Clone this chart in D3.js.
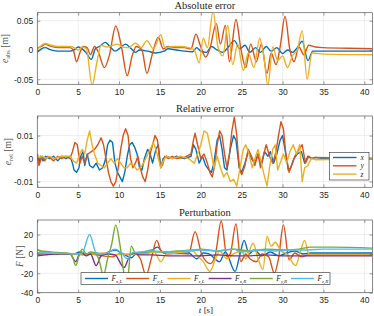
<!DOCTYPE html>
<html><head><meta charset="utf-8">
<script src="https://cdn.jsdelivr.net/npm/d3@7"></script>
<style>body{margin:0;background:#fff}svg{display:block}</style>
</head><body><svg id="c" width="374" height="316"></svg>
<script>
const colors = ["#0072BD","#D95319","#EDB120","#7E2F8E","#77AC30","#4DBEEE"];
const xTicks = [0,5,10,15,20,25,30,35,40];

// Absolute error [m]
const absX = [[0,-0.004],[0.5,0.002],[1,0.004],[1.5,0.001],[2,-0.001],[3,-0.002],[4,-0.002],[4.5,0],[5,0.005],[5.5,0.002],[6,-0.005],[6.6,-0.016],[7.1,0.002],[7.6,0.006],[8.3,0.013],[9,0.004],[9.5,-0.002],[10,0.002],[10.8,0.01],[11.5,0.002],[12,-0.004],[12.5,0],[13.5,-0.002],[14.5,-0.005],[15.5,-0.002],[16,0.002],[17,0],[18,-0.002],[19,-0.003],[19.5,0.004],[20,-0.002],[20.7,-0.004],[21.3,0.006],[22,0],[22.7,-0.004],[23.3,0.004],[24.1,0.016],[24.8,0.002],[25.4,0.008],[26,-0.004],[26.7,0.004],[27.3,-0.004],[28,0.006],[28.6,-0.002],[29.3,0.004],[30,-0.006],[30.6,0],[31.2,-0.004],[31.8,0.004],[32.4,0.015],[33.1,-0.018],[33.7,-0.002],[34.5,-0.002],[37,-0.002],[41,-0.002]];
const absY = [[0,0.003],[0.5,0.006],[1,0.01],[1.5,0.007],[2.5,0.004],[4,0.004],[4.4,0],[4.8,-0.02],[5.2,-0.005],[5.6,0.006],[6.1,0.004],[6.5,-0.008],[7,0.006],[7.5,-0.005],[8.2,-0.03],[8.8,-0.01],[9.6,0.041],[10.3,0.005],[11,-0.044],[11.6,-0.01],[12.1,0.006],[12.8,0],[13.4,-0.04],[14.1,-0.005],[14.8,0.022],[15.4,0.002],[16,0.006],[17,0.004],[18,0.004],[18.8,0.002],[19.4,0.027],[20,0.005],[20.6,-0.012],[21.1,0.002],[21.9,0.045],[22.4,0.01],[23,0.042],[23.5,-0.02],[24.3,0.052],[24.9,0.002],[25.5,-0.03],[26.1,0.01],[26.8,-0.02],[27.4,0.01],[28.1,-0.04],[28.6,-0.005],[29.2,-0.025],[29.7,0.005],[30.3,0.057],[30.9,0],[31.4,-0.02],[32,0.005],[32.6,-0.008],[33.2,0.008],[34,0.005],[35,0.004],[38,0.003],[41,0.002]];
const absZ = [[0,0],[0.5,0.008],[1,0.011],[1.5,0.009],[2.5,0.006],[4,0.006],[4.5,0.004],[5,0],[5.5,0.005],[6,0.002],[6.7,-0.06],[7.3,-0.02],[7.8,0.008],[8.5,0.005],[9.2,0.008],[9.8,0.01],[10.5,0.005],[11.2,0.004],[12,0.012],[12.7,0.004],[13.4,0.016],[14.2,0.002],[15.1,0.026],[15.6,0.004],[16.5,0.006],[17.5,0.006],[18.5,0.004],[19.2,0],[19.8,-0.022],[20.3,0.02],[20.8,0.004],[21.5,0.066],[22.1,0.005],[22.7,-0.01],[23.3,0.042],[23.9,-0.025],[24.5,0.01],[25.2,-0.035],[25.8,-0.005],[26.5,-0.03],[27.2,0.02],[27.7,-0.01],[28.2,-0.06],[28.8,0.005],[29.4,-0.018],[30,-0.01],[30.6,-0.03],[31.2,-0.01],[31.8,0],[32.4,0.033],[33,-0.05],[33.6,-0.005],[34.2,-0.006],[35,-0.007],[41,-0.008]];

// Relative error [m]
const relX = [[0,0.002],[0.2,-0.002],[0.4,0.001],[0.7,-0.001],[1,0.001],[1.5,0],[2,0.001],[2.5,-0.001],[3,0.001],[3.5,0],[4,0.001],[4.3,-0.002],[4.5,-0.005],[4.8,-0.006],[5.1,-0.004],[5.3,0.001],[5.6,0.003],[5.8,-0.003],[6.1,0.002],[6.4,-0.003],[6.8,-0.004],[7.2,-0.002],[7.6,-0.005],[8,-0.004],[8.3,-0.001],[8.6,0.006],[8.9,0.008],[9.2,0.007],[9.5,-0.002],[9.8,-0.006],[10.1,-0.008],[10.4,-0.01],[10.7,-0.006],[11,0.001],[11.3,0.006],[11.6,0.007],[11.9,0.005],[12.2,0.002],[12.5,-0.004],[12.8,-0.005],[13.1,0],[13.5,0.004],[13.8,0.002],[14.1,-0.002],[14.5,0.004],[14.8,0.006],[15.1,-0.004],[15.4,0],[15.8,0.001],[16.5,0],[17,0.001],[18,0],[18.8,0.001],[19.1,0.006],[19.4,0.004],[19.8,-0.002],[20.2,0.001],[20.6,-0.003],[21,-0.005],[21.3,-0.006],[21.6,-0.002],[22,0.008],[22.3,0.01],[22.6,0.004],[22.9,-0.004],[23.2,-0.005],[23.6,0.004],[24,0.01],[24.3,0.008],[24.7,-0.004],[25,-0.006],[25.4,-0.002],[25.8,0.003],[26.2,0],[26.6,-0.002],[27,0.002],[27.4,-0.003],[27.8,0.003],[28.2,0.001],[28.5,0.003],[28.9,-0.002],[29.3,0.002],[29.7,0.008],[30,0.01],[30.3,0.004],[30.7,-0.005],[31,-0.004],[31.4,0],[31.8,0.002],[32.3,0.003],[32.7,-0.002],[33.1,0.001],[33.5,0],[34,0.0005],[35,0],[41,0]];
const relY = [[0,0.002],[0.2,-0.003],[0.4,-0.001],[0.6,0.001],[0.9,-0.001],[1.3,0.001],[2,-0.001],[2.5,0.001],[3,0],[3.5,0.001],[4,0],[4.3,0.003],[4.6,0.007],[4.9,0.006],[5.2,-0.002],[5.5,0.001],[5.8,-0.002],[6.2,0.002],[6.6,0.003],[7,0.004],[7.4,0.006],[7.8,0.009],[8.1,0.006],[8.4,0],[8.7,-0.006],[9,-0.01],[9.3,-0.012],[9.6,-0.01],[9.9,-0.004],[10.2,0.004],[10.5,0.01],[10.8,0.013],[11.1,0.01],[11.4,0],[11.7,-0.004],[12,-0.002],[12.3,0.001],[12.6,-0.004],[12.9,-0.008],[13.2,-0.01],[13.5,-0.005],[13.8,0.002],[14.1,0.006],[14.4,0.01],[14.7,0.008],[15,-0.002],[15.3,-0.003],[15.6,0.001],[16,0],[16.5,0.001],[17,0],[18,0.0005],[18.8,0.002],[19.1,0.008],[19.3,0.011],[19.6,0.006],[20,0],[20.4,0.002],[20.8,-0.002],[21.1,-0.006],[21.4,-0.008],[21.7,-0.003],[22,0.006],[22.3,0.012],[22.6,0.01],[22.9,0.002],[23.2,-0.004],[23.5,0.002],[23.8,0.012],[24.1,0.018],[24.4,0.01],[24.7,-0.004],[25,-0.007],[25.4,-0.003],[25.8,0.004],[26.2,0.001],[26.6,-0.003],[27,0.002],[27.3,-0.004],[27.7,0.002],[28,0.006],[28.4,0.001],[28.8,-0.002],[29.2,0.003],[29.5,0.01],[29.8,0.016],[30.1,0.013],[30.4,0.002],[30.8,-0.006],[31.1,-0.003],[31.5,0.001],[32,0.004],[32.4,0.006],[32.8,-0.002],[33.2,0.001],[33.6,0],[34,0.0005],[41,0]];
const relZ = [[0,0.001],[0.3,0.0005],[0.6,0.001],[1,0],[1.5,0.001],[2,0],[3,0.001],[4,0.001],[4.4,-0.001],[4.8,-0.002],[5.2,0.002],[5.5,0.004],[5.8,0.002],[6.1,0.008],[6.4,0.012],[6.7,0.006],[7,0.002],[7.4,-0.002],[7.8,-0.003],[8.2,-0.004],[8.6,-0.002],[9,0],[9.4,-0.002],[9.8,0],[10.2,-0.002],[10.6,-0.004],[11,-0.004],[11.4,-0.002],[11.8,-0.003],[12.2,-0.005],[12.6,-0.004],[13,-0.002],[13.4,0.001],[13.8,0.004],[14.2,0.007],[14.5,0.004],[14.8,0],[15.1,-0.004],[15.4,-0.001],[15.8,0.001],[16.5,0],[17.5,0.001],[18.5,0],[19.2,-0.002],[19.6,0.002],[20,0.006],[20.4,0.012],[20.8,0.011],[21.2,0.004],[21.6,-0.004],[22,0.001],[22.4,-0.004],[22.8,-0.008],[23.2,-0.006],[23.6,-0.01],[24,-0.009],[24.4,-0.012],[24.8,-0.004],[25.2,0.004],[25.5,0.006],[25.9,0.002],[26.3,-0.004],[26.7,0.001],[27,0.004],[27.4,-0.002],[27.8,-0.008],[28.1,-0.012],[28.4,-0.004],[28.8,0.004],[29.1,0.006],[29.4,-0.005],[29.7,-0.002],[30.1,0.002],[30.5,-0.002],[30.9,0.003],[31.3,0.006],[31.7,0.002],[32.1,0.006],[32.4,-0.01],[32.7,-0.004],[33.1,-0.003],[33.5,0],[34,-0.0005],[41,0]];

// Perturbation [N]
const pFxL = [[0,1],[1,0.5],[3,0],[4.5,0],[5.2,2],[6,0],[7,1],[8,0],[9.5,4],[10.5,0],[11.5,-4],[12.2,1],[13.5,1],[14.7,7],[15.5,1],[17,0.5],[18.5,1],[19.5,-5],[20.3,1],[21,0],[22.3,-8],[23,2],[24.2,-18],[24.8,0],[25.3,14],[25.9,0],[26.5,4],[27.5,-2],[28.5,2],[29.5,-2],[30.5,1],[31.5,3],[32.5,0],[33.5,1],[35,1],[41,1]];
const pFyL = [[0,0],[2,0],[4.5,0],[5.5,-1],[6.5,0],[8,-2],[9.2,-3],[10,0],[11,-1],[12,0],[12.6,-5],[13.3,-22],[14,-3],[14.6,14],[15.2,2],[16,0],[17,1],[18.5,0],[19.3,23],[20.1,0],[21.2,-10],[21.8,0],[22.5,34],[23.2,-3],[23.6,0],[24.3,31],[24.9,-8],[25.5,0],[26,-5],[26.8,-8],[27.5,0],[28.3,-3],[29,-20],[29.5,-5],[30.1,30],[30.8,-6],[31.5,1],[32.3,-3],[33.2,-1],[35,-1],[41,-1]];
const pFzL = [[0,5],[0.5,2],[2,0],[4.5,0],[5.5,0],[7,0],[8,1],[9.5,-1],[11,0],[13,0],[14.3,2],[15.1,-8],[15.8,0],[17,1],[19,3],[19.6,-2],[20.3,-8],[21.1,-18],[21.8,-5],[22.3,3],[23.2,-5],[24,0],[25,3],[25.5,-5],[26.4,11],[27,-5],[27.6,-16],[28.1,18],[28.6,8],[29.1,12],[29.8,3],[30.5,0],[31.6,-12],[32.1,0],[32.7,14],[33.2,0],[33.7,-1],[41,-1]];
const pFxR = [[0,-2],[1,-1],[2,0],[4,0],[4.7,-8],[5.3,2],[6,-2],[6.5,0],[7.2,-12],[7.8,-2],[8.5,0],[9.5,-1],[10.6,-14],[11.3,-2],[11.8,1],[12.5,-1],[14,-1],[16,-2],[20,-2],[22,-1],[24,-2],[26,-2],[28,-1],[30,-2],[32,-2],[34,-2],[41,-2]];
const pFyR = [[0,4],[0.5,3],[2.5,1.5],[4,0.5],[4.3,-3],[4.7,-12],[5.1,-2],[5.5,5],[6,0],[6.5,2],[7,1],[7.5,-5],[8.1,-22],[8.6,-5],[9.1,10],[9.6,30],[10.1,10],[10.6,-20],[11,-28],[11.5,8],[12,1],[13,2],[14,4],[14.7,2],[15.5,2],[17,3],[19,4],[20,5],[22,3],[24,5],[26,3],[28,5],[30,4],[32,5],[33.5,7],[36,7],[41,6]];
const pFzR = [[0,1],[1,1],[3,0.5],[5,0],[5.5,1],[6.4,20],[7.2,1],[8,0],[8.8,2],[9.5,5],[10.3,1],[11,-5],[11.6,1],[12.5,2],[14,3],[16,2],[18,3],[20,4],[22,3],[24,5],[25,2],[27,4],[29,3],[31,4],[33,4],[35,5],[41,5]];

const absTicks = [-0.05,0,0.05], absTickLabels = ["-0.05","0","0.05"];
const relTicks = [-0.01,0,0.01], relTickLabels = ["-0.01","0","0.01"];
const pTicks = [-40,-20,0,20], pTickLabels = ["-40","-20","0","20"];
const relLegend = ["x","y","z"];
const pLegend = [["x","L"],["y","L"],["z","L"],["x","R"],["y","R"],["z","R"]];

const svg = d3.select("#c");
const L = 37.3, R = 372.5;
const x = d3.scaleLinear().domain([0,41]).range([L,R]);
const axisCol = "#5a5a5a", gridCol = "#e3e3e3", textCol = "#262626";
const serif = "'Liberation Serif','DejaVu Serif',serif";
const sans = "'Liberation Sans',Arial,sans-serif";

const panels = [
  {top:12.7,bottom:84.3,dom:[-0.0585,0.0636],ticks:absTicks,labels:absTickLabels,title:"Absolute error",titleY:8.5,series:[absX,absY,absZ],curve:d3.curveMonotoneX,ylab:["e","abs"," [m]"],ylx:8},
  {top:116,bottom:187.3,dom:[-0.0125,0.0185],ticks:relTicks,labels:relTickLabels,title:"Relative error",titleY:111.5,series:[relX,relY,relZ],curve:d3.curveLinear,ylab:["e","rel"," [m]"],ylx:11},
  {top:220,bottom:292.7,dom:[-40,35],ticks:pTicks,labels:pTickLabels,title:"Perturbation",titleY:215.5,series:[pFxL,pFyL,pFzL,pFxR,pFyR,pFzR],curve:d3.curveMonotoneX,ylab:["F","",""+" [N]"],ylx:23}
];

panels.forEach((p,i)=>{
  const y = d3.scaleLinear().domain(p.dom).range([p.bottom,p.top]);
  const g = svg.append("g");
  g.selectAll(".gx").data(xTicks).enter().append("line")
    .attr("x1",d=>x(d)).attr("x2",d=>x(d)).attr("y1",p.top).attr("y2",p.bottom)
    .attr("stroke",gridCol).attr("stroke-width",0.6);
  g.selectAll(".gy").data(p.ticks).enter().append("line")
    .attr("x1",L).attr("x2",R).attr("y1",d=>y(d)).attr("y2",d=>y(d))
    .attr("stroke",gridCol).attr("stroke-width",0.6);
  svg.append("clipPath").attr("id","cp"+i).append("rect")
    .attr("x",L).attr("y",p.top).attr("width",R-L).attr("height",p.bottom-p.top);
  const line = d3.line().x(d=>x(d[0])).y(d=>y(d[1])).curve(p.curve);
  const lg = g.append("g").attr("clip-path","url(#cp"+i+")");
  p.series.forEach((s,k)=>{
    lg.append("path").attr("d",line(s)).attr("fill","none")
      .attr("stroke",colors[k]).attr("stroke-width",1.4).attr("stroke-linejoin","round");
  });
  g.append("rect").attr("x",L).attr("y",p.top).attr("width",R-L).attr("height",p.bottom-p.top)
    .attr("fill","none").attr("stroke",axisCol).attr("stroke-width",0.7);
  const ax = d3.axisBottom(x).tickValues(xTicks).tickSize(-3).tickPadding(6).tickFormat(d3.format("d"));
  const axG = g.append("g").attr("transform",`translate(0,${p.bottom})`).call(ax);
  const axT = g.append("g").attr("transform",`translate(0,${p.top})`).call(d3.axisTop(x).tickValues(xTicks).tickSize(-3).tickFormat(""));
  const ay = d3.axisLeft(y).tickValues(p.ticks).tickSize(-3).tickPadding(4).tickFormat((d,j)=>p.labels[j]);
  const ayG = g.append("g").attr("transform",`translate(${L},0)`).call(ay);
  const ayR = g.append("g").attr("transform",`translate(${R},0)`).call(d3.axisRight(y).tickValues(p.ticks).tickSize(-3).tickFormat(""));
  [axG,axT,ayG,ayR].forEach(a=>{
    a.select(".domain").remove();
    a.selectAll("line").attr("stroke",axisCol).attr("stroke-width",0.6);
    a.selectAll("text").attr("fill",textCol).style("font-family",sans).style("font-size","8.5px");
  });
  axG.selectAll("text").attr("dy","0.71em").attr("y",4.5);
  svg.append("text").attr("x",(L+R)/2).attr("y",p.titleY).attr("text-anchor","middle")
    .style("font-family",serif).style("font-size","10.5px").attr("fill",textCol).text(p.title);
  const yc = (p.top+p.bottom)/2;
  const yl = svg.append("text").attr("transform",`translate(${p.ylx},${yc}) rotate(-90)`)
    .attr("text-anchor","middle").style("font-family",serif).style("font-size","9.5px").attr("fill","#555");
  yl.append("tspan").style("font-style","italic").text(p.ylab[0]);
  if (p.ylab[1]) {
    yl.append("tspan").attr("dy",2).style("font-size","6.5px").text(p.ylab[1]);
    yl.append("tspan").attr("dy",-2).text(p.ylab[2]);
  } else {
    yl.append("tspan").text(p.ylab[2]);
  }
});

const xl = svg.append("text").attr("x",206).attr("y",313).attr("text-anchor","middle")
  .style("font-family",serif).style("font-size","9px").attr("fill",textCol);
xl.append("tspan").style("font-style","italic").text("t");
xl.append("tspan").text(" [s]");

const lg1 = svg.append("g");
lg1.append("rect").attr("x",329.3).attr("y",152.3).attr("width",39.7).attr("height",27.7)
  .attr("fill","#fff").attr("stroke",textCol).attr("stroke-width",0.6);
relLegend.forEach((n,k)=>{
  const yy = 157.5 + k*8.3;
  lg1.append("line").attr("x1",333).attr("x2",356.5).attr("y1",yy).attr("y2",yy)
    .attr("stroke",colors[k]).attr("stroke-width",1.4);
  lg1.append("text").attr("x",360.5).attr("y",yy+2.5).style("font-family",serif)
    .style("font-style","italic").style("font-size","7.5px").attr("fill",textCol).text(n);
});

const lg2 = svg.append("g");
lg2.append("rect").attr("x",81).attr("y",272.7).attr("width",249).attr("height",11.6)
  .attr("fill","#fff").attr("stroke",textCol).attr("stroke-width",0.6);
pLegend.forEach((n,k)=>{
  const x0 = 85 + k*41.2, yy = 278.5;
  lg2.append("line").attr("x1",x0).attr("x2",x0+23).attr("y1",yy).attr("y2",yy)
    .attr("stroke",colors[k]).attr("stroke-width",1.4);
  const t = lg2.append("text").attr("x",x0+26.5).attr("y",yy+2.5).style("font-family",serif)
    .style("font-size","7.5px").attr("fill",textCol);
  t.append("tspan").style("font-style","italic").text("F");
  t.append("tspan").attr("dy",1.5).style("font-size","5px").style("font-style","italic").text(n[0]+",");
  t.append("tspan").style("font-size","5px").style("font-style","italic").text(n[1]);
});
</script></body></html>
